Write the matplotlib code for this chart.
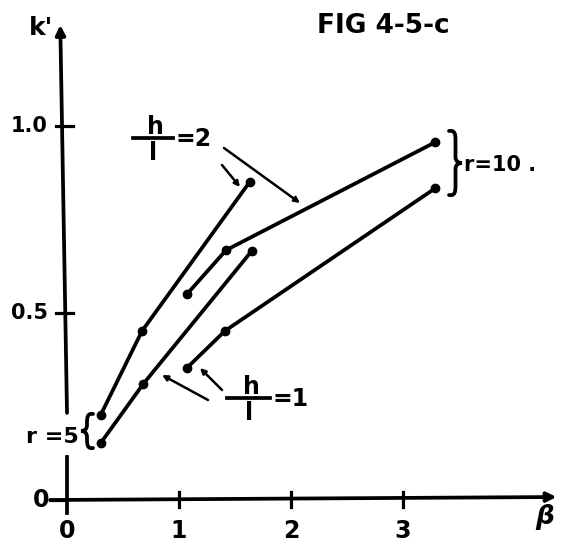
import matplotlib
matplotlib.use("Agg")
import matplotlib.pyplot as plt
import matplotlib.transforms as mtransforms
from matplotlib.path import Path
from matplotlib.patches import PathPatch

# k' against beta
beta_r5_h2 = [0.30, 0.67, 1.63]
k_r5_h2 = [0.227, 0.452, 0.85]
beta_r5_h1 = [0.30, 0.68, 1.65]
k_r5_h1 = [0.152, 0.31, 0.666]
beta_r10_h2 = [1.07, 1.42, 3.29]
k_r10_h2 = [0.55, 0.668, 0.957]
beta_r10_h1 = [1.07, 1.41, 3.29]
k_r10_h1 = [0.353, 0.452, 0.834]

x_ticks = [1, 2, 3]
x_tick_labels = ["1", "2", "3"]
y_ticks = [0.5, 1.0]
y_tick_labels = ["0.5", "1.0"]

W, H = 561, 547
fig = plt.figure(figsize=(W / 100, H / 100), dpi=100)
ax = fig.add_axes([0, 0, 1, 1])
# drawing scale: 112 px per unit beta, 374 px per unit k', origin at (67, 500)
x0, sx = 67, 112
y0, sy = 500, 374
ax.set_xlim(-x0 / sx, (W - x0) / sx)
ax.set_ylim(-(H - y0) / sy, y0 / sy)
ax.axis("off")

# pixel coords (top-left origin) for the hand lettering
pix = mtransforms.Affine2D().scale(1 / W, -1 / H).translate(0, 1) + fig.transFigure

FONT = "DejaVu Sans"
ink = "black"
LW = 2.7
txt = dict(family=FONT, weight="bold", transform=pix)

# curves
for b, k in [(beta_r5_h2, k_r5_h2), (beta_r5_h1, k_r5_h1),
             (beta_r10_h2, k_r10_h2), (beta_r10_h1, k_r10_h1)]:
    ax.plot(b, k, "-o", color=ink, lw=LW, ms=6, solid_capstyle="round")

# axes drawn by hand
arrow = dict(arrowstyle="-|>", color=ink, lw=LW, mutation_scale=14,
             shrinkA=0, shrinkB=0)
ax.annotate("", xy=(4.37, 0.008), xytext=(-0.15, 0.0), arrowprops=arrow)
ax.annotate("", xy=(-0.06, 1.27), xytext=(0.0, 0.233), arrowprops=arrow)
ax.plot([0.0, 0.0], [-0.035, 0.115], color=ink, lw=LW)

for t in x_ticks:
    ax.plot([t, t], [-0.02, 0.022], color=ink, lw=2.3)
for t in y_ticks:
    ax.plot([-0.1, 0.05], [t, t], color=ink, lw=2.3)
ax.plot([-0.15, 0.0], [0, 0], color=ink, lw=2.3)

for t, lab in zip(x_ticks, x_tick_labels):
    ax.text(t, -0.082, lab, ha="center", va="center", fontsize=17,
            family=FONT, weight="bold")
ax.text(0, -0.082, "0", ha="center", va="center", fontsize=17,
        family=FONT, weight="bold")
for t, lab in zip(y_ticks, y_tick_labels):
    ax.text(-0.17, t, lab, ha="right", va="center", fontsize=15,
            family=FONT, weight="bold")
ax.text(-0.155, 0, "0", ha="right", va="center", fontsize=17,
        family=FONT, weight="bold")

# lettering
ax.text(41, 28, "k'", ha="center", va="center", fontsize=18, **txt)
ax.text(545, 517, "β", ha="center", va="center", fontsize=19,
        style="italic", **txt)
ax.text(317, 26, "FIG 4-5-c", ha="left", va="center", fontsize=19, **txt)
ax.text(79, 437, "r =5", ha="right", va="center", fontsize=16, **txt)
ax.text(464, 165, "r=10 .", ha="left", va="center", fontsize=15, **txt)


def frac_label(xc, ybar, x_left, x_right, rhs):
    ax.text(xc + 2, ybar - 11, "h", ha="center", va="center", fontsize=17, **txt)
    ax.plot([x_left, x_right], [ybar, ybar], transform=pix, color=ink, lw=LW)
    ax.text(xc, ybar + 15, "l", ha="center", va="center", fontsize=17, **txt)
    ax.text(x_right + 3, ybar + 1, rhs, ha="left", va="center", fontsize=17, **txt)


frac_label(153, 138, 133, 173, "=2")
frac_label(249, 398, 227, 270, "=1")

pointer = dict(arrowstyle="-|>", color=ink, lw=1.8, mutation_scale=8,
               shrinkA=0, shrinkB=0)
for start, end in [((224, 148), (300, 203)), ((222, 165), (240, 187)),
                   ((208, 400), (162, 375)), ((222, 390), (200, 368))]:
    ax.annotate("", xy=end, xytext=start, xycoords=pix, textcoords=pix,
                arrowprops=pointer)


def brace(x, ytop, ybot, w, side):
    # side=+1 tip to the right, -1 tip to the left
    ym = (ytop + ybot) / 2
    s = side
    xe = x + s * w / 2
    xt = x + s * w
    verts = [(x, ytop), (x + s * 0.45 * w, ytop - 1), (xe, ytop + 3), (xe, ytop + 9),
             (xe, ym - 6),
             (xe, ym - 2), (x + s * 0.7 * w, ym), (xt, ym),
             (x + s * 0.7 * w, ym), (xe, ym + 2), (xe, ym + 6),
             (xe, ybot - 9),
             (xe, ybot - 3), (x + s * 0.45 * w, ybot + 1), (x, ybot)]
    codes = [Path.MOVETO, Path.CURVE4, Path.CURVE4, Path.CURVE4,
             Path.LINETO,
             Path.CURVE4, Path.CURVE4, Path.CURVE4,
             Path.CURVE4, Path.CURVE4, Path.CURVE4,
             Path.LINETO,
             Path.CURVE4, Path.CURVE4, Path.CURVE4]
    ax.add_patch(PathPatch(Path(verts, codes), transform=pix, fill=False,
                           ec=ink, lw=LW, capstyle="round"))


brace(449, 131, 195, 13, +1)
brace(93, 414, 448, 12, -1)

fig.savefig("out.png", dpi=100)
